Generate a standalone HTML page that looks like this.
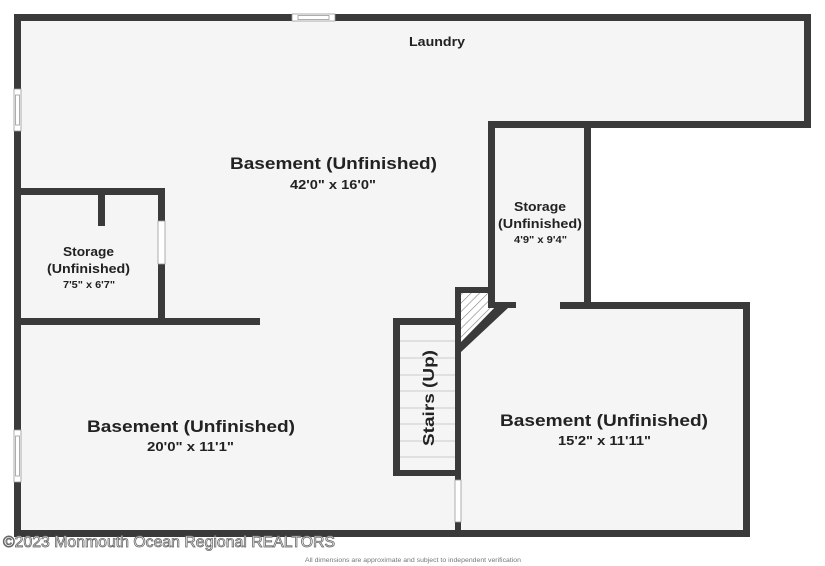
<!DOCTYPE html>
<html><head><meta charset="utf-8"><style>
html,body{margin:0;padding:0;background:#fff;}
svg{display:block;}
text{font-family:"Liberation Sans",sans-serif;font-weight:bold;fill:#222;}
</style></head><body>
<svg width="825" height="566" viewBox="0 0 825 566">
<defs>
<pattern id="h" width="6" height="6" patternUnits="userSpaceOnUse" patternTransform="rotate(45)">
<rect width="6" height="6" fill="#fff"/><line x1="0" y1="0" x2="0" y2="6" stroke="#888" stroke-width="1.2"/>
</pattern>
</defs>
<polygon points="17,17 807,17 807,124 587,124 587,305 747,305 747,534 17,534" fill="#f5f5f5"/>
<polygon points="458,290 492,290 492,305 505,305 458,348" fill="url(#h)"/>
<g fill="#3a3a3a">
<rect x="14" y="14" width="797" height="7"/>
<rect x="804" y="14" width="7" height="114"/>
<rect x="488" y="121" width="323" height="7"/>
<rect x="14" y="14" width="7" height="523"/>
<rect x="14" y="530" width="736" height="7"/>
<rect x="743" y="302" width="7" height="235"/>
<rect x="560" y="302" width="190" height="7"/>
<rect x="584" y="121" width="7" height="188"/>
<rect x="488" y="121" width="7" height="187"/>
<rect x="488" y="302" width="28" height="6"/>
<rect x="455" y="287" width="40" height="6"/>
<rect x="455" y="287" width="6" height="250"/>
<polygon points="500,302 516,302 516,308 508,308 461,352 461,342"/>
<rect x="393" y="318" width="68" height="7"/>
<rect x="393" y="318" width="7" height="158"/>
<rect x="393" y="470" width="68" height="6"/>
<rect x="14" y="188" width="151" height="7"/>
<rect x="158" y="188" width="7" height="137"/>
<rect x="98" y="188" width="7" height="38"/>
<rect x="14" y="318" width="246" height="7"/>
</g>
<g stroke="#ccc" stroke-width="1">
<line x1="400" y1="341" x2="455" y2="341"/><line x1="400" y1="358" x2="455" y2="358"/>
<line x1="400" y1="375" x2="455" y2="375"/><line x1="400" y1="391" x2="455" y2="391"/>
<line x1="400" y1="408" x2="455" y2="408"/><line x1="400" y1="424" x2="455" y2="424"/>
<line x1="400" y1="441" x2="455" y2="441"/><line x1="400" y1="457" x2="455" y2="457"/>
</g>
<g fill="#fff" stroke="#999" stroke-width="0.8">
<rect x="292" y="14" width="43" height="7"/><rect x="298" y="15.5" width="31" height="4"/>
<rect x="14" y="89" width="7" height="42"/><rect x="15.5" y="95" width="4" height="30"/>
<rect x="14" y="430" width="7" height="52"/><rect x="15.5" y="436" width="4" height="40"/>
<rect x="158" y="221" width="7" height="43"/>
<rect x="455" y="480" width="6" height="42"/>
</g>
<g lengthAdjust="spacingAndGlyphs">
<text x="409" y="46" font-size="12.5" textLength="56" lengthAdjust="spacingAndGlyphs">Laundry</text>
<text x="230" y="169" font-size="17" textLength="207" lengthAdjust="spacingAndGlyphs">Basement (Unfinished)</text>
<text x="290" y="189" font-size="12.5" textLength="86" lengthAdjust="spacingAndGlyphs">42'0" x 16'0"</text>
<text x="63" y="256" font-size="12.5" textLength="51" lengthAdjust="spacingAndGlyphs">Storage</text>
<text x="47" y="273" font-size="12.5" textLength="83" lengthAdjust="spacingAndGlyphs">(Unfinished)</text>
<text x="63" y="288" font-size="10" textLength="52" lengthAdjust="spacingAndGlyphs">7'5" x 6'7"</text>
<text x="514" y="211" font-size="12.5" textLength="52" lengthAdjust="spacingAndGlyphs">Storage</text>
<text x="498" y="228" font-size="12.5" textLength="84" lengthAdjust="spacingAndGlyphs">(Unfinished)</text>
<text x="514" y="243" font-size="10" textLength="53" lengthAdjust="spacingAndGlyphs">4'9" x 9'4"</text>
<text x="87" y="432" font-size="17" textLength="208" lengthAdjust="spacingAndGlyphs">Basement (Unfinished)</text>
<text x="147" y="451" font-size="12.5" textLength="87" lengthAdjust="spacingAndGlyphs">20'0" x 11'1"</text>
<text x="500" y="426" font-size="17" textLength="208" lengthAdjust="spacingAndGlyphs">Basement (Unfinished)</text>
<text x="558" y="445" font-size="12.5" textLength="93" lengthAdjust="spacingAndGlyphs">15'2" x 11'11"</text>
<text transform="translate(434,446) rotate(-90)" font-size="16" textLength="96" lengthAdjust="spacingAndGlyphs">Stairs (Up)</text>
<text x="3" y="547" font-size="16" textLength="332" lengthAdjust="spacingAndGlyphs" style="font-weight:normal;fill:#fff;stroke:#666;stroke-width:0.8">©2023 Monmouth Ocean Regional REALTORS</text>
<text x="305" y="562" font-size="6.5" textLength="216" lengthAdjust="spacingAndGlyphs" style="font-weight:normal;fill:#777">All dimensions are approximate and subject to independent verification</text>
</g>
</svg>
</body></html>
